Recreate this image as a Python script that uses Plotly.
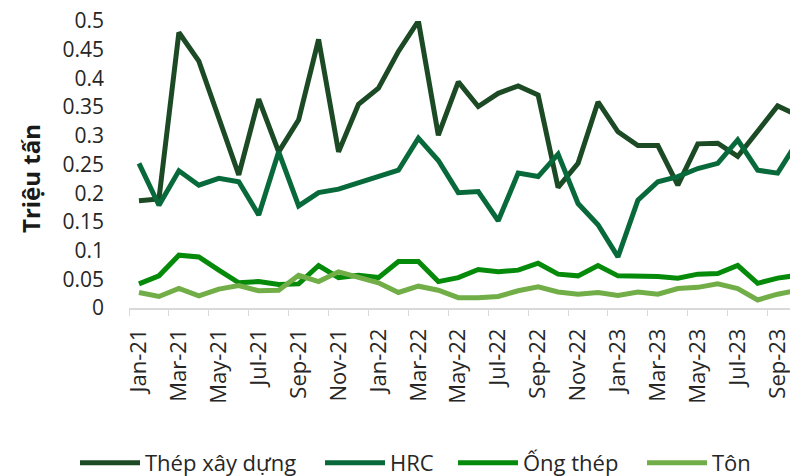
import plotly.graph_objects as go

months = ["Jan-21", "Feb-21", "Mar-21", "Apr-21", "May-21", "Jun-21", "Jul-21", "Aug-21", "Sep-21", "Oct-21", "Nov-21", "Dec-21",
          "Jan-22", "Feb-22", "Mar-22", "Apr-22", "May-22", "Jun-22", "Jul-22", "Aug-22", "Sep-22", "Oct-22", "Nov-22", "Dec-22",
          "Jan-23", "Feb-23", "Mar-23", "Apr-23", "May-23", "Jun-23", "Jul-23", "Aug-23", "Sep-23", "Oct-23"]

thep_xay_dung = [0.187, 0.19, 0.480, 0.430, 0.331, 0.232, 0.364, 0.272, 0.328, 0.468, 0.272, 0.355,
                 0.383, 0.447, 0.500, 0.301, 0.394, 0.351, 0.374, 0.387, 0.371, 0.210, 0.252, 0.359,
                 0.307, 0.283, 0.283, 0.214, 0.286, 0.287, 0.264, 0.308, 0.352, 0.336]
hrc = [0.252, 0.179, 0.239, 0.214, 0.226, 0.220, 0.162, 0.272, 0.178, 0.201, 0.207, 0.218,
       0.229, 0.240, 0.296, 0.257, 0.201, 0.203, 0.152, 0.235, 0.229, 0.268, 0.182, 0.145,
       0.089, 0.188, 0.220, 0.229, 0.243, 0.252, 0.293, 0.240, 0.235, 0.290]
ong_thep = [0.042, 0.056, 0.092, 0.089, 0.066, 0.044, 0.046, 0.041, 0.042, 0.074, 0.053, 0.057,
            0.053, 0.081, 0.081, 0.046, 0.053, 0.067, 0.063, 0.066, 0.078, 0.059, 0.056, 0.074,
            0.056, 0.056, 0.055, 0.052, 0.059, 0.060, 0.074, 0.043, 0.052, 0.057]
ton = [0.027, 0.020, 0.034, 0.021, 0.033, 0.039, 0.030, 0.031, 0.057, 0.046, 0.063, 0.053,
       0.044, 0.027, 0.038, 0.031, 0.018, 0.018, 0.020, 0.030, 0.037, 0.028, 0.024, 0.027,
       0.022, 0.028, 0.024, 0.034, 0.036, 0.042, 0.034, 0.014, 0.024, 0.031]

series_names = ["Thép xây dựng", "HRC", "Ống thép", "Tôn"]
series_colors = ["#1b4a25", "#08693a", "#058a0a", "#72ae48"]
series_values = [thep_xay_dung, hrc, ong_thep, ton]
legend_ids = ["legend", "legend2", "legend3", "legend4"]
legend_x = [75, 320, 453, 642]  # container px of each legend entry

FONT = "Open Sans"
W, H = 790, 476

fig = go.Figure()
for name, color, vals, lid in zip(series_names, series_colors, series_values, legend_ids):
    fig.add_trace(go.Scatter(x=months, y=vals, name=name, mode="lines",
                             line=dict(color=color, width=5), legend=lid))

legend_style = dict(orientation="h", xref="container", yref="container",
                    y=1 - 463 / H, xanchor="left", yanchor="middle",
                    font=dict(size=22, color="#262626", family=FONT), itemwidth=60,
                    bgcolor="rgba(0,0,0,0)")
legends = {lid: dict(legend_style, x=lx / W) for lid, lx in zip(legend_ids, legend_x)}

fig.update_layout(
    width=W, height=H,
    margin=dict(l=129, r=0, t=21, b=168, autoexpand=False),
    paper_bgcolor="white", plot_bgcolor="white",
    font=dict(family=FONT, size=20, color="#262626"),
    showlegend=True,
    annotations=[dict(text="<b>Triệu tấn</b>", xref="paper", yref="paper",
                      x=-0.148, y=0.45, xanchor="center", yanchor="middle",
                      textangle=-90, showarrow=False,
                      font=dict(size=24, color="#1a1a1a", family=FONT))],
    **legends,
)
fig.update_xaxes(type="category", range=[-0.5, 32.62], dtick=2, tickson="boundaries",
                 ticks="outside", ticklen=6, tickcolor="#d9d9d9", tickwidth=1.3,
                 showline=True, linecolor="#d9d9d9", linewidth=1.5,
                 showgrid=False, tickangle=-90, ticklabelstandoff=10,
                 tickfont=dict(size=22, color="#262626"))
fig.update_yaxes(range=[0, 0.5], dtick=0.05, showgrid=False, zeroline=False,
                 showline=False, ticks="", ticklabelstandoff=24,
                 tickfont=dict(size=21, color="#262626"))

fig.write_html("out.html", config={"displayModeBar": False},
               post_script="document.body.style.margin='0';")
